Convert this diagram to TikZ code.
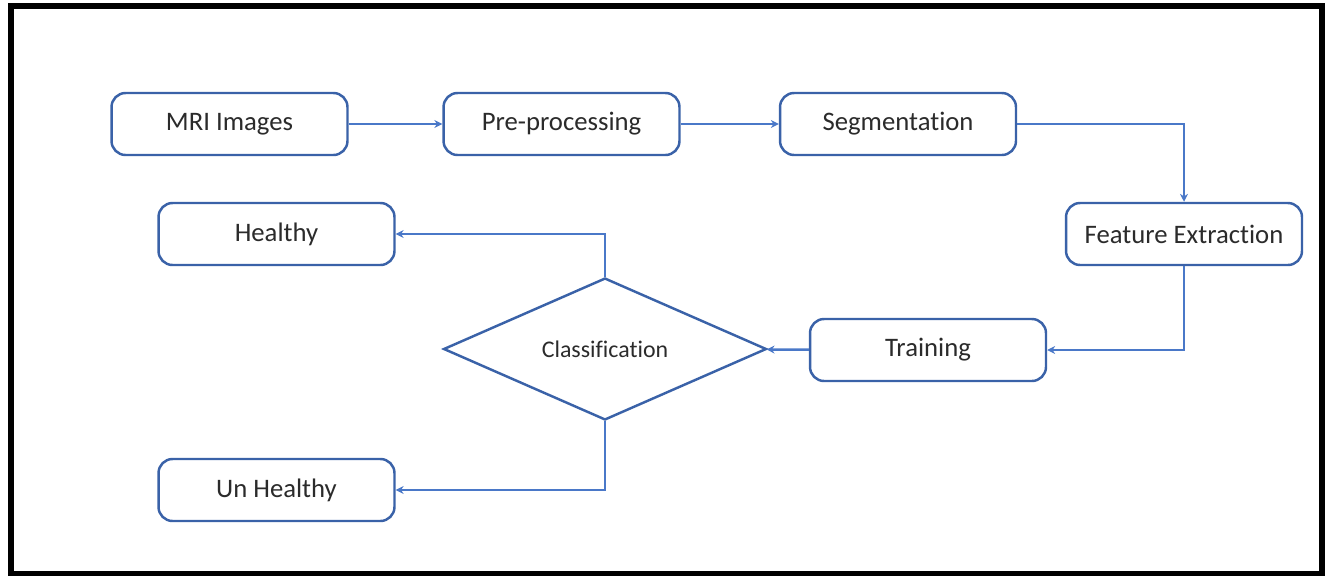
\documentclass[tikz,border=0pt]{standalone}
\usepackage{fontspec}
\setmainfont{Carlito}[Ligatures=NoCommon]
\usetikzlibrary{shapes.geometric,arrows.meta}

\definecolor{boxblue}{HTML}{3A62A8}
\definecolor{lineblue}{HTML}{4A78C8}
\definecolor{txtgray}{HTML}{2B2B2B}

\begin{document}
\begin{tikzpicture}[%
	x=0.02cm, y=-0.02cm,%
	stage/.style ={draw=boxblue, line width=1.4pt, rounded corners=8pt, fill=white, minimum width=4.72cm, minimum height=1.24cm, text=txtgray, font=\fontsize{15.2}{18}\selectfont},%
	decide/.style ={draw=boxblue, line width=1.4pt, diamond, aspect=2.27, minimum width=6.46cm, minimum height=2.84cm, inner sep=0pt, text=txtgray, font=\fontsize{13.6}{16}\selectfont},%
	flow/.style ={draw=lineblue, line width=1.4pt, -{Stealth[length=4.5pt,width=4.5pt]}},%
	]
\useasboundingbox (0,0) rectangle (1327,575);
%%% frame
	\draw [line width=3.4pt] (11,6) rectangle (1322,574);
%%% frame
%%% stages
	\node [stage] (mri) at (229.5,124) {MRI Images};
	\node [stage] (pre) at (561.5,124) {Pre-processing};
	\node [stage] (seg) at (898,124) {Segmentation};
	\node [stage] (feat) at (1184,234) {Feature Extraction};
	\node [stage] (train) at (928,350) {Training};
	\node [decide] (cls) at (605,349) {Classification};
	\node [stage] (hlt) at (276.5,234) {Healthy};
	\node [stage] (unh) at (276.5,490) {Un Healthy};
%%% stages
%%% connectors
	\draw [flow] (mri) -- (pre);
	\draw [flow] (pre) -- (seg);
	\draw [flow] (seg.east) -| (feat.north);
	\draw [flow] (feat.south) |- (train.east);
	\draw [flow] (train) -- (cls);
	\draw [flow] (cls.north) |- (hlt.east);
	\draw [flow] (cls.south) |- (unh.east);
%%% connectors
\end{tikzpicture}
\end{document}
